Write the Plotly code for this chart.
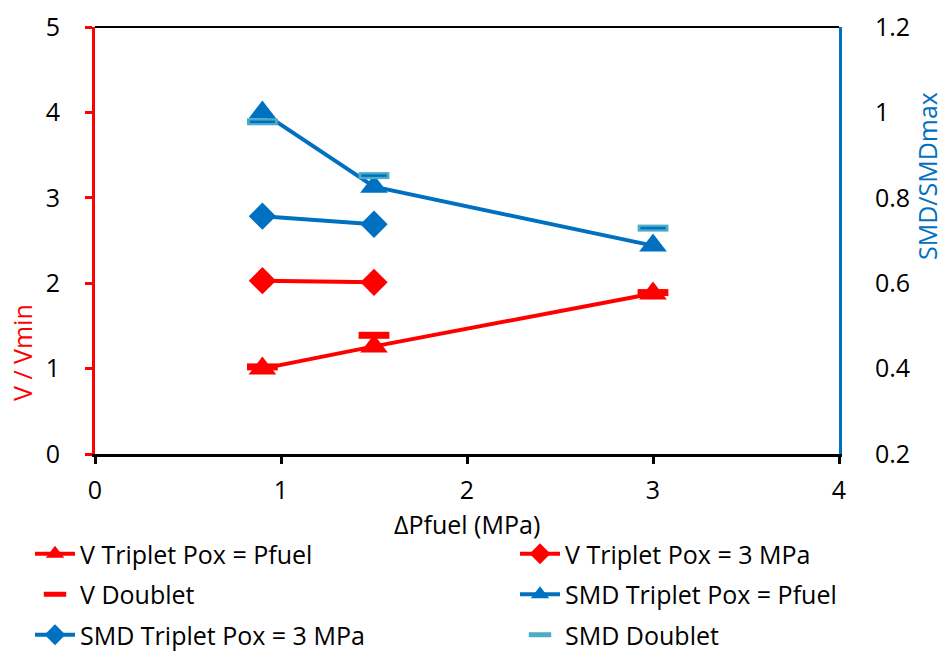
import plotly.graph_objects as go

# ---- data ----
x_vt_pfuel = [0.9, 1.5, 3.0]
v_vt_pfuel = [1.0, 1.26, 1.88]

x_vt_3 = [0.9, 1.5]
v_vt_3 = [2.03, 2.01]

x_v_doublet = [0.9, 1.5, 3.0]
v_doublet = [1.02, 1.39, 1.89]

x_smd_pfuel = [0.9, 1.5, 3.0]
smd_pfuel = [1.0, 0.826, 0.688]

x_smd_3 = [0.9, 1.5]
smd_3 = [0.757, 0.738]

x_smd_doublet = [0.9, 1.5, 3.0]
smd_doublet = [0.978, 0.852, 0.729]

RED = "#FF0000"
BLUE = "#0070C0"
LBLUE = "#4BACC6"
FONT = "Open Sans, Liberation Sans, Arial, sans-serif"
FS = 25

W, H = 944, 653
L, R, T, B = 95, 105, 27, 199
PW, PH = W - L - R, H - T - B


def px_to_paper(px, py):
    return (px - L) / PW, (H - B - py) / PH


fig = go.Figure()

fig.add_trace(go.Scatter(x=x_vt_pfuel, y=v_vt_pfuel, mode="lines+markers",
                         name="V Triplet Pox = Pfuel", yaxis="y",
                         legend="legend", legendgroup="a", legendrank=1,
                         line=dict(color=RED, width=4),
                         marker=dict(symbol="triangle-up", size=24, color=RED)))
fig.add_trace(go.Scatter(x=x_vt_3, y=v_vt_3, mode="lines+markers",
                         name="V Triplet Pox = 3 MPa", yaxis="y",
                         legend="legend2", legendgroup="b", legendrank=1,
                         line=dict(color=RED, width=4),
                         marker=dict(symbol="diamond", size=21, color=RED)))
fig.add_trace(go.Scatter(x=x_v_doublet, y=v_doublet, mode="markers",
                         name="V Doublet", yaxis="y",
                         legend="legend", legendgroup="c", legendrank=2,
                         marker=dict(symbol="line-ew", size=22, color=RED,
                                     line=dict(color=RED, width=7))))
fig.add_trace(go.Scatter(x=x_smd_pfuel, y=smd_pfuel, mode="lines+markers",
                         name="SMD Triplet Pox = Pfuel", yaxis="y2",
                         legend="legend2", legendgroup="d", legendrank=2,
                         line=dict(color=BLUE, width=4),
                         marker=dict(symbol="triangle-up", size=24, color=BLUE)))
fig.add_trace(go.Scatter(x=x_smd_3, y=smd_3, mode="lines+markers",
                         name="SMD Triplet Pox = 3 MPa", yaxis="y2",
                         legend="legend", legendgroup="e", legendrank=3,
                         line=dict(color=BLUE, width=4),
                         marker=dict(symbol="diamond", size=21, color=BLUE)))
fig.add_trace(go.Scatter(x=x_smd_doublet, y=smd_doublet, mode="markers",
                         name="SMD Doublet", yaxis="y2",
                         legend="legend2", legendgroup="f", legendrank=3,
                         marker=dict(symbol="line-ew", size=22, color=LBLUE,
                                     line=dict(color=LBLUE, width=7))))
fig.add_trace(go.Scatter(x=x_smd_doublet, y=smd_doublet, mode="markers",
                         showlegend=False, yaxis="y2", hoverinfo="skip",
                         marker=dict(symbol="line-ew", size=18, color=BLUE,
                                     line=dict(color=BLUE, width=2.5))))

legend_common = dict(orientation="v", xref="container", yref="container",
                     xanchor="left", yanchor="top",
                     font=dict(size=FS, family=FONT), itemwidth=40,
                     tracegroupgap=5, bgcolor="rgba(0,0,0,0)")

fig.update_layout(
    width=W, height=H,
    margin=dict(l=L, r=R, t=T, b=B, autoexpand=False),
    paper_bgcolor="white", plot_bgcolor="white",
    font=dict(family=FONT, size=FS, color="black"),
    showlegend=True,
    xaxis=dict(range=[0, 4], dtick=1, showgrid=False, zeroline=False,
               showline=True, linecolor="black", linewidth=3,
               ticks="outside", tickcolor="black", tickwidth=3, ticklen=7,
               ticklabelstandoff=5),
    yaxis=dict(range=[0, 5], dtick=1, showgrid=False, zeroline=False,
               showline=True, linecolor=RED, linewidth=3,
               ticks="outside", tickcolor=RED, tickwidth=3, ticklen=7,
               ticklabelstandoff=20),
    yaxis2=dict(range=[0.2, 1.2], dtick=0.2, overlaying="y", side="right",
                showgrid=False, zeroline=False, showline=True,
                linecolor=BLUE, linewidth=3, ticks="",
                ticklabelstandoff=28,
                tickvals=[0.2, 0.4, 0.6, 0.8, 1.0, 1.2],
                ticktext=["0.2", "0.4", "0.6", "0.8", "1", "1.2"]),
    legend=dict(x=30 / W, y=1 - 531 / H, **legend_common),
    legend2=dict(x=515 / W, y=1 - 531 / H, **legend_common),
)

# axis titles (placed like the reference)
ax, ay = px_to_paper(467, 524)
fig.add_annotation(text="ΔPfuel (MPa)", xref="paper", yref="paper",
                   x=ax, y=ay, showarrow=False,
                   font=dict(size=FS, color="black"), xanchor="center", yanchor="middle")
lx, ly = px_to_paper(22, 353)
fig.add_annotation(text="V / Vmin", xref="paper", yref="paper",
                   x=lx, y=ly, textangle=-90, showarrow=False,
                   font=dict(size=FS, color=RED), xanchor="center", yanchor="middle")
rx, ry = px_to_paper(927, 176)
fig.add_annotation(text="SMD/SMDmax", xref="paper", yref="paper",
                   x=rx, y=ry, textangle=-90, showarrow=False,
                   font=dict(size=FS, color=BLUE), xanchor="center", yanchor="middle")

fig.add_shape(type="line", xref="paper", yref="paper", x0=0, x1=1, y0=1, y1=1,
              line=dict(color="black", width=2))

fig.write_html("out.html")
